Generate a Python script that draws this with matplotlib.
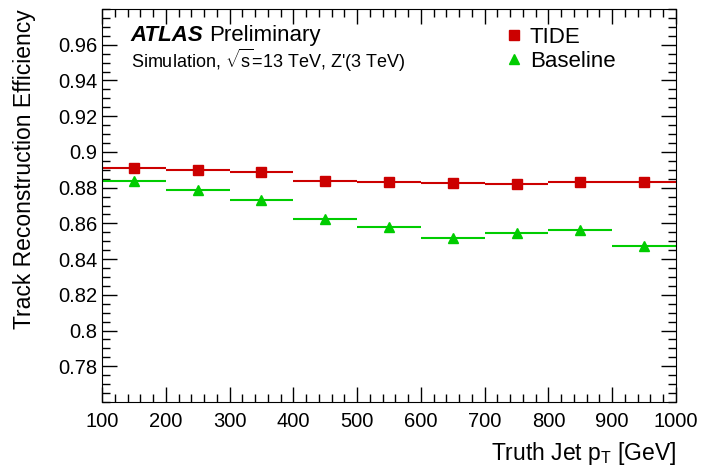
import matplotlib
matplotlib.use('Agg')
import matplotlib.pyplot as plt
from matplotlib.ticker import MultipleLocator
from matplotlib.lines import Line2D

plt.rcParams['font.family'] = ['Liberation Sans', 'DejaVu Sans']
plt.rcParams['mathtext.fontset'] = 'custom'
plt.rcParams['mathtext.rm'] = 'Liberation Sans'
plt.rcParams['mathtext.it'] = 'Liberation Sans:italic'

bin_centers = [150, 250, 350, 450, 550, 650, 750, 850, 950]
bin_half_width = 50
tide_eff = [0.8908, 0.8901, 0.8887, 0.8837, 0.8830, 0.8826, 0.8818, 0.8831, 0.8834]
baseline_eff = [0.8837, 0.8785, 0.8729, 0.8626, 0.8581, 0.8518, 0.8546, 0.8562, 0.8471]

red = '#cc0000'
green = '#00cc00'

fig = plt.figure(figsize=(7.04, 4.67), dpi=100)
ax = fig.add_axes([0.1449, 0.1392, 0.9602 - 0.1449, 0.9807 - 0.1392])

ax.errorbar(bin_centers, tide_eff, xerr=bin_half_width, fmt='s', color=red,
            ms=7, elinewidth=1.5, capsize=0)
ax.errorbar(bin_centers, baseline_eff, xerr=bin_half_width, fmt='^', color=green,
            ms=7, elinewidth=1.5, capsize=0)

ax.set_xlim(100, 1000)
ax.set_ylim(0.76, 0.98)
ax.set_xticks(range(100, 1001, 100))
ax.set_yticks([0.78, 0.8, 0.82, 0.84, 0.86, 0.88, 0.9, 0.92, 0.94, 0.96])
ax.set_yticklabels(['0.78', '0.8', '0.82', '0.84', '0.86', '0.88', '0.9', '0.92', '0.94', '0.96'])
ax.xaxis.set_minor_locator(MultipleLocator(20))
ax.yaxis.set_minor_locator(MultipleLocator(0.005))
ax.tick_params(which='both', direction='in', top=True, right=True, labelsize=14.5)
ax.tick_params(which='major', length=11, width=1)
ax.tick_params(which='minor', length=6, width=1)
ax.tick_params(axis='x', pad=7)

ax.set_xlabel(r'Truth Jet p$_{\mathrm{T}}$ [GeV]', fontsize=16.5, loc='right', labelpad=7)
ax.set_ylabel('Track Reconstruction Efficiency', fontsize=16.5, loc='top')
ax.yaxis.set_label_coords(-0.1145, 1.0)

ax.text(0.05, 0.919, 'ATLAS', transform=ax.transAxes, fontsize=16,
        fontweight='bold', fontstyle='italic')
ax.text(0.186, 0.919, 'Preliminary', transform=ax.transAxes, fontsize=16)
ax.text(0.05, 0.849, "Simulation, $\\sqrt{\\mathrm{s}}$=13 TeV, Z'(3 TeV)",
        transform=ax.transAxes, fontsize=13)

handles = [Line2D([], [], ls='none', marker='s', color=red, ms=7),
           Line2D([], [], ls='none', marker='^', color=green, ms=7)]
ax.legend(handles, ['TIDE', 'Baseline'], loc='upper left', bbox_to_anchor=(0.664, 1.005),
          frameon=False, fontsize=16, handlelength=1.0, handletextpad=0.2,
          labelspacing=0.12)

fig.savefig('out.png', dpi=100)
